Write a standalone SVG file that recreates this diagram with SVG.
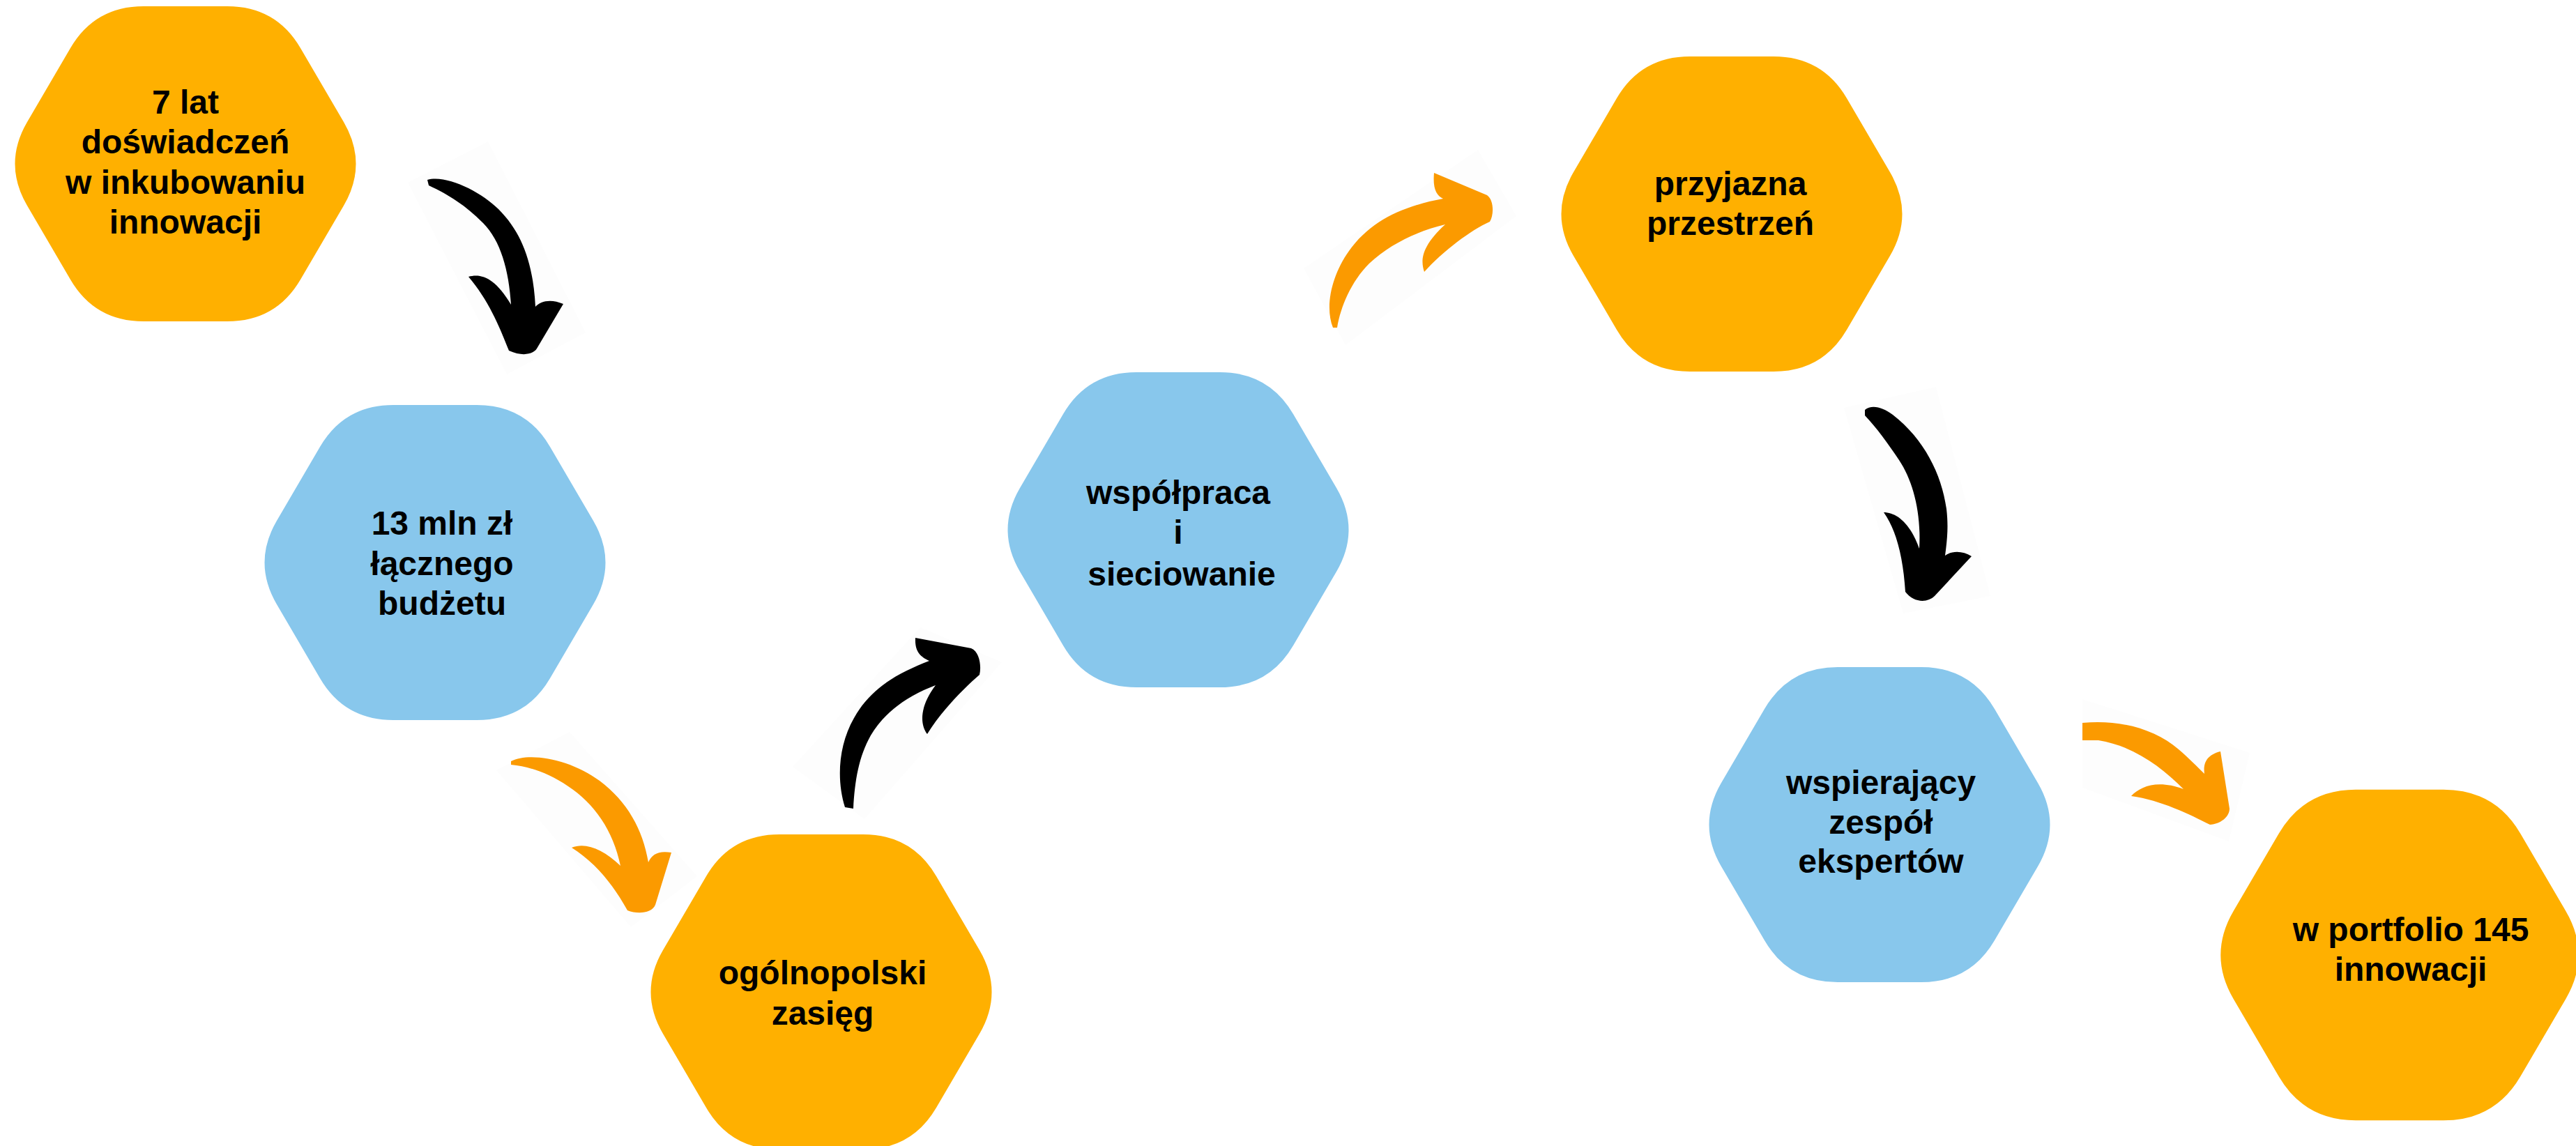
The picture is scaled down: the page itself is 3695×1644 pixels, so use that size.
<svg xmlns="http://www.w3.org/2000/svg" width="3695" height="1644" viewBox="0 0 3695 1644">
<style>
.or{fill:#FFB000}
.bl{fill:#88C7EC}
.t{font-family:"Liberation Sans",Arial,sans-serif;font-weight:bold;font-size:48px;fill:#000;text-anchor:middle}
.ab{fill:#000}
.ao{fill:#FB9A00}
.bg{fill:#FDFDFD}
</style>
<defs>
<path id="hex" d="M-227,-60 L-165,-166 Q-130,-226 -60,-226 L60,-226 Q130,-226 165,-166 L227,-60 Q262,0 227,60 L165,166 Q130,226 60,226 L-60,226 Q-130,226 -165,166 L-227,60 Q-262,0 -227,-60 Z"/>
</defs>
<rect width="3695" height="1644" fill="#fff"/>
<g id="connectors">
<polygon class="bg" points="585,262 700,203 840,477 727,537"/>
<polygon class="bg" points="712,1105 817,1050 1000,1257 905,1330"/>
<polygon class="bg" points="1137,1100 1320,900 1437,950 1240,1175"/>
<polygon class="bg" points="1870,385 2120,215 2175,310 1930,495"/>
<polygon class="bg" points="2645,585 2777,555 2855,855 2730,880"/>
<polygon class="bg" points="2987,1003 3227,1080 3197,1207 2987,1130"/>
<path id="arrow1" class="ab" d="M613,258 C640,250 690,275 715,300 C750,335 765,380 768,440 C775,432 790,428 808,436 L770,500 C765,508 750,512 730,503 C715,465 700,430 672,397 C690,392 710,398 733,437 C730,388 718,345 693,320 C668,295 645,280 615,266 Z"/>
<path id="arrow2" class="ao" d="M733,1092 C760,1078 820,1090 860,1120 C900,1150 922,1190 930,1237 C935,1225 945,1220 963,1223 L940,1298 C935,1310 915,1312 900,1306 C880,1270 855,1238 820,1216 C840,1208 865,1218 890,1242 C880,1192 852,1152 815,1128 C785,1108 760,1100 733,1097 Z"/>
<path id="arrow3" class="ab" d="M1212,1158 C1200,1120 1202,1070 1225,1030 C1250,985 1290,965 1333,948 C1320,942 1312,935 1313,915 L1393,930 C1405,935 1408,955 1405,968 C1385,985 1350,1020 1330,1053 C1320,1040 1318,1015 1342,983 C1302,998 1268,1022 1249,1055 C1232,1085 1226,1120 1224,1160 Z"/>
<path id="arrow4" class="ao" d="M1912,470 C1900,440 1910,395 1935,360 C1965,318 2010,296 2070,285 C2060,280 2055,270 2057,248 L2133,280 C2143,287 2143,308 2137,318 C2110,330 2070,360 2043,390 C2038,375 2037,355 2073,322 C2032,332 1994,350 1964,378 C1938,404 1923,440 1918,470 Z"/>
<path id="arrow5" class="ab" d="M2675,588 C2685,580 2700,584 2715,595 C2760,630 2785,680 2792,730 C2795,755 2793,775 2790,797 C2800,790 2815,790 2828,798 L2775,855 C2765,865 2745,865 2733,849 C2730,800 2720,760 2702,735 C2720,735 2740,750 2753,787 C2756,735 2744,690 2724,660 C2708,636 2692,614 2675,596 Z"/>
<path id="arrow6" class="ao" d="M2987,1037 C3040,1032 3090,1045 3125,1075 C3140,1088 3152,1100 3162,1110 C3160,1095 3165,1083 3185,1078 L3198,1160 C3198,1172 3185,1182 3170,1183 C3140,1168 3100,1148 3057,1142 C3070,1128 3095,1118 3132,1132 C3100,1100 3060,1070 3010,1062 L2987,1062 Z"/>
</g>
<g id="node1">
<use href="#hex" class="or" transform="translate(266,235)"/>
<text class="t" x="266" y="163">7 lat</text>
<text class="t" x="266" y="220">doświadczeń</text>
<text class="t" x="266" y="278">w inkubowaniu</text>
<text class="t" x="266" y="335">innowacji</text>
</g>
<g id="node2">
<use href="#hex" class="bl" transform="translate(624,807)"/>
<text class="t" x="634" y="767">13 mln zł</text>
<text class="t" x="634" y="825">łącznego</text>
<text class="t" x="634" y="882">budżetu</text>
</g>
<g id="node3">
<use href="#hex" class="or" transform="translate(1178,1423)"/>
<text class="t" x="1180" y="1412">ogólnopolski</text>
<text class="t" x="1180" y="1470">zasięg</text>
</g>
<g id="node4">
<use href="#hex" class="bl" transform="translate(1690,760)"/>
<text class="t" x="1690" y="723">współpraca</text>
<text class="t" x="1690" y="780">i</text>
<text class="t" x="1695" y="840">sieciowanie</text>
</g>
<g id="node5">
<use href="#hex" class="or" transform="translate(2484,307)"/>
<text class="t" x="2482" y="280">przyjazna</text>
<text class="t" x="2482" y="337">przestrzeń</text>
</g>
<g id="node6">
<use href="#hex" class="bl" transform="translate(2696,1183)"/>
<text class="t" x="2698" y="1139">wspierający</text>
<text class="t" x="2698" y="1196">zespół</text>
<text class="t" x="2698" y="1252">ekspertów</text>
</g>
<g id="node7">
<use href="#hex" class="or" transform="translate(3442,1370) scale(1.05)"/>
<text class="t" x="3458" y="1350">w portfolio 145</text>
<text class="t" x="3458" y="1407">innowacji</text>
</g>
</svg>
